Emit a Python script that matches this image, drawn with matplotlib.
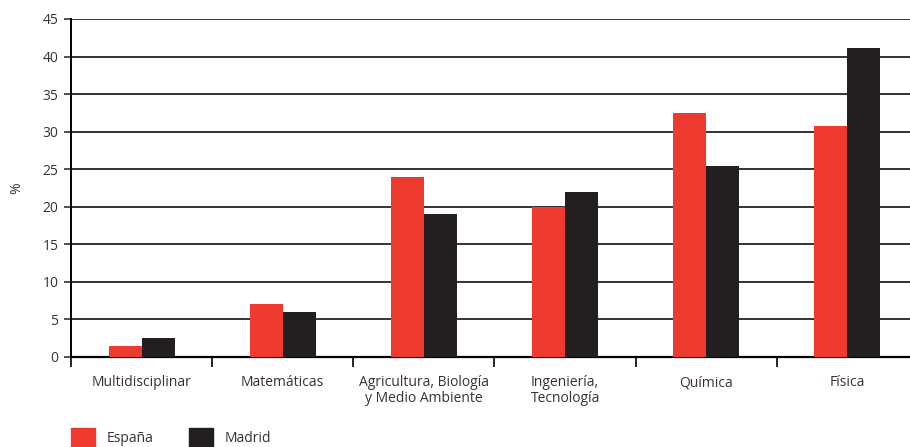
import matplotlib
matplotlib.use("Agg")
import matplotlib.pyplot as plt
import numpy as np
from matplotlib.patches import Patch

categories = ["Multidisciplinar", "Matemáticas", "Agricultura, Biología\ny Medio Ambiente",
              "Ingeniería,\nTecnología", "Química", "Física"]
espana = [1.5, 7.0, 24.0, 20.0, 32.5, 30.8]
madrid = [2.5, 6.0, 19.0, 22.0, 25.4, 41.2]

RED = "#ee3a31"
BLACK = "#231f20"
TEXT = "#333333"

plt.rcParams["font.family"] = ["Open Sans", "DejaVu Sans"]
plt.rcParams["font.size"] = 10

fig = plt.figure(figsize=(9.10, 4.47), dpi=100)
# the last category runs a little past the right edge of the picture
ax = fig.add_axes([71 / 910, 1 - 357 / 447, (918 - 71) / 910, (357 - 19) / 447])

x = np.arange(len(categories))
w = 0.234
ax.bar(x - w / 2, espana, width=w, color=RED, zorder=3)
ax.bar(x + w / 2, madrid, width=w, color=BLACK, zorder=3)

ax.set_xlim(-0.5, len(categories) - 0.5)
ax.set_ylim(0, 45)
ax.set_yticks(np.arange(0, 46, 5))
ax.yaxis.grid(True, color="#333333", linewidth=1.4, zorder=0)
ax.set_axisbelow(True)

# category names centred, tick marks on the boundaries
ax.set_xticks(np.arange(-0.5, len(categories) + 0.5, 1))
ax.set_xticklabels([])
ax.set_xticks(x, minor=True)
ax.set_xticklabels(categories, minor=True, linespacing=1.1)
ax.tick_params(axis="x", which="minor", length=0, pad=13, colors=TEXT)
ax.tick_params(axis="x", which="major", length=7, width=1.2, color="black")
ax.tick_params(axis="y", length=5, width=1.2, colors=TEXT, pad=4)

for s in ["top", "right"]:
    ax.spines[s].set_visible(False)
ax.spines["left"].set_linewidth(1.4)
ax.spines["bottom"].set_linewidth(1.6)
ax.spines["left"].set_color("black")
ax.spines["bottom"].set_color("black")

ax.set_ylabel("%", color=TEXT, labelpad=13)

handles = [Patch(color=RED, label="España"), Patch(color=BLACK, label="Madrid")]
fig.legend(handles=handles, loc="lower left", bbox_to_anchor=(71 / 910, 0), ncol=2,
           frameon=False, borderpad=0, borderaxespad=0, handlelength=1.7, handleheight=1.7,
           columnspacing=2.6, handletextpad=0.85, labelcolor=TEXT)

fig.savefig("out.png", dpi=100)
